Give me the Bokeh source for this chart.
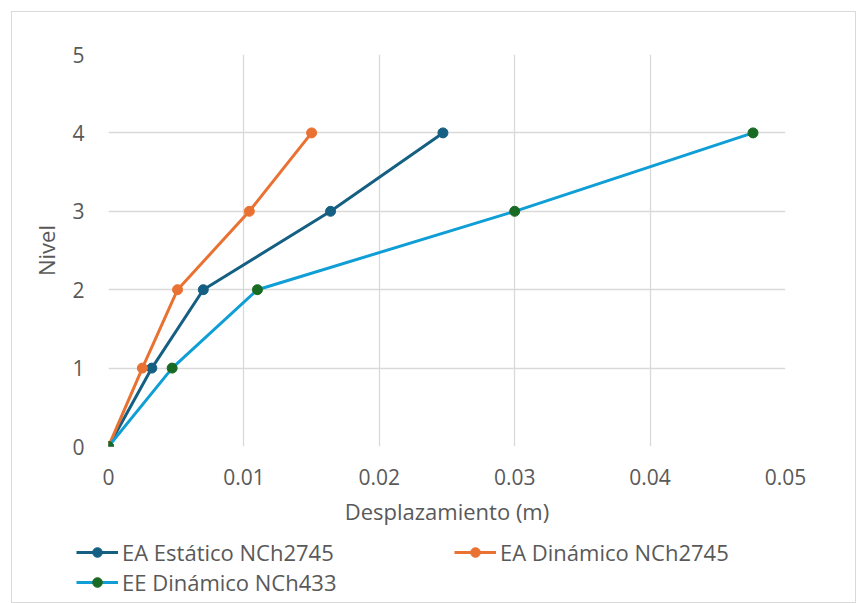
from bokeh.plotting import figure
from bokeh.models import Legend, LegendItem, FixedTicker, NumeralTickFormatter, Range1d
from bokeh.embed import file_html
from bokeh.resources import INLINE

# Data
niveles = [0, 1, 2, 3, 4]
ea_estatico = [0.0, 0.0032, 0.0070, 0.0164, 0.0247]
ea_dinamico = [0.0, 0.0025, 0.0051, 0.0104, 0.0150]
ee_dinamico = [0.0, 0.0047, 0.0110, 0.0300, 0.0476]
series_names = ["EA Estático NCh2745", "EA Dinámico NCh2745", "EE Dinámico NCh433"]
x_ticks = [0, 0.01, 0.02, 0.03, 0.04, 0.05]
y_ticks = [0, 1, 2, 3, 4, 5]

FONT = "Open Sans"
GRAY = "#595959"
GRID = "#d9d9d9"
line_colors = ["#156082", "#E97132", "#0F9ED5"]
marker_colors = ["#156082", "#E97132", "#196B24"]
data = [ea_estatico, ea_dinamico, ee_dinamico]

# Main chart
p = figure(width=845, height=524, output_backend="svg", toolbar_location=None,
           x_range=Range1d(0, 0.05), y_range=Range1d(0, 5),
           min_border_left=96, min_border_right=72, min_border_top=42, min_border_bottom=90,
           margin=(11, 0, 0, 11),
           styles={"border": "1px solid #d9d9d9", "border-bottom": "none"})
p.outline_line_color = None
p.background_fill_color = "white"
p.border_fill_color = "white"

p.xaxis.ticker = FixedTicker(ticks=x_ticks)
p.yaxis.ticker = FixedTicker(ticks=y_ticks)
p.xaxis.formatter = NumeralTickFormatter(format="0.[00]")
for ax in (p.xaxis, p.yaxis):
    ax.axis_line_color = None
    ax.major_tick_line_color = None
    ax.minor_tick_line_color = None
    ax.major_label_text_font = FONT
    ax.major_label_text_font_size = "21px"
    ax.major_label_text_color = GRAY
    ax.axis_label_text_font = FONT
    ax.axis_label_text_font_size = "22px"
    ax.axis_label_text_color = GRAY
    ax.axis_label_text_font_style = "normal"
p.xaxis.axis_label = "Desplazamiento (m)"
p.yaxis.axis_label = "Nivel"
p.xaxis.major_label_standoff = 16
p.xaxis.axis_label_standoff = 8
p.yaxis.major_label_standoff = 18
p.yaxis.axis_label_standoff = 8

p.xgrid.grid_line_color = GRID
p.ygrid.grid_line_color = GRID
p.xgrid.grid_line_width = 1.3
p.ygrid.grid_line_width = 1.3

for xs, lc, mc in zip(data, line_colors, marker_colors):
    p.line(xs, niveles, line_color=lc, line_width=3)
    p.scatter(xs, niveles, size=10, fill_color=mc, line_color=mc)

# Legend strip below the chart (series drawn out of view, only used as legend keys)
pl = figure(width=845, height=68, output_backend="svg", toolbar_location=None,
            x_range=Range1d(0, 1), y_range=Range1d(100, 101),
            min_border=0, x_axis_type=None, y_axis_type=None,
            margin=(0, 0, 0, 11),
            styles={"border": "1px solid #d9d9d9", "border-top": "none"})
pl.outline_line_color = None
pl.xgrid.visible = False
pl.ygrid.visible = False

leg_renderers = []
for xs, lc, mc in zip(data, line_colors, marker_colors):
    l = pl.line(xs, niveles, line_color=lc, line_width=3)
    s = pl.scatter(xs, niveles, size=8, fill_color=mc, line_color=mc)
    leg_renderers.append([l, s])

leg_a = Legend(items=[LegendItem(label=series_names[0], renderers=leg_renderers[0]),
                      LegendItem(label=series_names[1], renderers=leg_renderers[1])],
               orientation="horizontal", location=(64, 36), spacing=7, label_width=325)
leg_b = Legend(items=[LegendItem(label=series_names[2], renderers=leg_renderers[2])],
               orientation="horizontal", location=(64, 6))
for lg in (leg_a, leg_b):
    lg.border_line_color = None
    lg.background_fill_alpha = 0
    lg.padding = 0
    lg.margin = 0
    lg.glyph_width = 42
    lg.glyph_height = 24
    lg.label_height = 24
    lg.label_standoff = 4
    lg.label_text_font = FONT
    lg.label_text_font_size = "22px"
    lg.label_text_color = GRAY
    pl.add_layout(lg)

open("out.html", "w").write(file_html([p, pl], INLINE))
